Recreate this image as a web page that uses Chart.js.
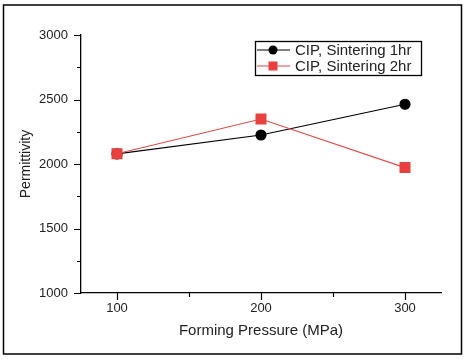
<!DOCTYPE html>
<html>
<head>
<meta charset="utf-8">
<script src="https://cdn.jsdelivr.net/npm/chart.js@4"></script>
<style>
  html, body { margin: 0; padding: 0; background: #fff; }
  #wrap { width: 467px; height: 359px; }
</style>
</head>
<body>
<div id="wrap"><canvas id="permChart" width="467" height="359"></canvas></div>
<script>
// Data
const pressures = [100, 200, 300]
const sintering1hr = [2078, 2225, 2463]
const sintering2hr = [2080, 2349, 1972]
const seriesNames = ["CIP, Sintering 1hr", "CIP, Sintering 2hr"]
const xMajorTicks = [100, 200, 300]
const xMinorTicks = [150, 250]
const yMajorTicks = [1000, 1500, 2000, 2500, 3000]
const yMinorTicks = [1250, 1750, 2250, 2750]

const textColor = "#222"
const fontFamily = "'Liberation Sans', Arial, sans-serif"

function toPoints(xs, ys) {
  return xs.map((x, i) => ({ x: x, y: ys[i] }))
}

// Outer frame, outward ticks and the boxed legend
const decorPlugin = {
  id: "decor",
  afterDraw(chart) {
    const ctx = chart.ctx
    const xs = chart.scales.x
    const ys = chart.scales.y
    const area = chart.chartArea
    ctx.save()

    // frame around the whole figure
    ctx.strokeStyle = "#000"
    ctx.lineWidth = 1.5
    ctx.strokeRect(3.5, 5, 458, 349)

    // ticks
    ctx.lineWidth = 1.2
    ctx.beginPath()
    yMajorTicks.forEach((v) => {
      const y = Math.round(ys.getPixelForValue(v)) + 0.5
      ctx.moveTo(area.left, y)
      ctx.lineTo(area.left - 7, y)
    })
    yMinorTicks.forEach((v) => {
      const y = Math.round(ys.getPixelForValue(v)) + 0.5
      ctx.moveTo(area.left, y)
      ctx.lineTo(area.left - 4, y)
    })
    xMajorTicks.forEach((v) => {
      const x = Math.round(xs.getPixelForValue(v)) + 0.5
      ctx.moveTo(x, area.bottom)
      ctx.lineTo(x, area.bottom + 7)
    })
    xMinorTicks.forEach((v) => {
      const x = Math.round(xs.getPixelForValue(v)) + 0.5
      ctx.moveTo(x, area.bottom)
      ctx.lineTo(x, area.bottom + 4)
    })
    ctx.stroke()

    // legend
    const box = { left: 255.5, top: 41.5, width: 166, height: 34 }
    ctx.lineWidth = 1.3
    ctx.strokeStyle = "#000"
    ctx.strokeRect(box.left, box.top, box.width, box.height)
    const rows = [50, 66]
    chart.data.datasets.forEach((ds, i) => {
      const y = rows[i]
      ctx.strokeStyle = ds.borderColor
      ctx.lineWidth = ds.borderWidth
      ctx.beginPath()
      ctx.moveTo(257, y)
      ctx.lineTo(290, y)
      ctx.stroke()
      ctx.fillStyle = ds.pointBackgroundColor
      if (ds.pointStyle === "rect") {
        ctx.fillRect(273 - 4.5, y - 4.5, 9, 9)
      } else {
        ctx.beginPath()
        ctx.arc(273, y, 4.5, 0, Math.PI * 2)
        ctx.fill()
      }
      ctx.fillStyle = textColor
      ctx.font = "15px " + fontFamily
      ctx.textBaseline = "middle"
      ctx.textAlign = "left"
      ctx.fillText(ds.label, 295, y + 0.5)
    })
    ctx.restore()
  },
}

const ctx = document.getElementById("permChart")
new Chart(ctx, {
  type: "line",
  data: {
    datasets: [
      {
        label: seriesNames[0],
        data: toPoints(pressures, sintering1hr),
        borderColor: "#000",
        backgroundColor: "#000",
        pointBackgroundColor: "#000",
        pointBorderColor: "#000",
        borderWidth: 1.2,
        pointStyle: "circle",
        pointRadius: 5,
        tension: 0,
        order: 1,
      },
      {
        label: seriesNames[1],
        data: toPoints(pressures, sintering2hr),
        borderColor: "#e34848",
        backgroundColor: "#e8403f",
        pointBackgroundColor: "#e8403f",
        pointBorderColor: "#e8403f",
        borderWidth: 1.1,
        pointStyle: "rect",
        pointRadius: 7,
        tension: 0,
        order: 0,
      },
    ],
  },
  options: {
    responsive: false,
    animation: false,
    devicePixelRatio: 1,
    layout: { padding: { left: 18, top: 35, right: 26, bottom: 19 } },
    plugins: {
      legend: { display: false },
      tooltip: { enabled: false },
    },
    scales: {
      x: {
        type: "linear",
        min: 75,
        max: 325,
        afterBuildTicks: (scale) => {
          scale.ticks = xMajorTicks.map((v) => ({ value: v }))
        },
        afterFit: (scale) => {
          scale.height = 47
        },
        grid: { drawOnChartArea: false, drawTicks: false },
        border: { display: true, color: "#000", width: 1.3 },
        ticks: {
          padding: 8,
          color: textColor,
          font: { family: fontFamily, size: 13 },
          callback: (v) => String(v),
        },
        title: {
          display: true,
          text: "Forming Pressure (MPa)",
          color: textColor,
          padding: 0,
          font: { family: fontFamily, size: 15 },
        },
      },
      y: {
        min: 1000,
        max: 3000,
        afterBuildTicks: (scale) => {
          scale.ticks = yMajorTicks.map((v) => ({ value: v }))
        },
        afterFit: (scale) => {
          scale.width = 63
        },
        grid: { drawOnChartArea: false, drawTicks: false },
        border: { display: true, color: "#000", width: 1.3 },
        ticks: {
          padding: 13,
          color: textColor,
          font: { family: fontFamily, size: 13 },
          callback: (v) => String(v),
        },
        title: {
          display: true,
          text: "Permittivity",
          color: textColor,
          padding: 0,
          font: { family: fontFamily, size: 14 },
        },
      },
    },
  },
  plugins: [decorPlugin],
})
</script>
</body>
</html>
